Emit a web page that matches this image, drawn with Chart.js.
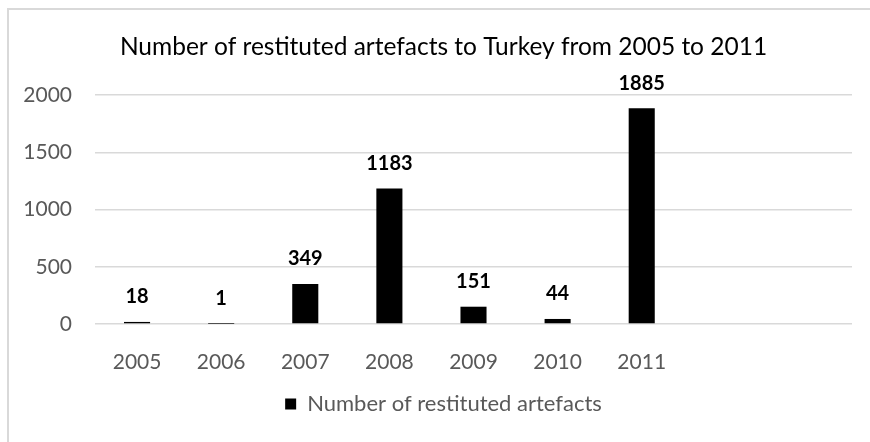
<!DOCTYPE html>
<html>
<head>
<meta charset="utf-8">
<script src="https://cdn.jsdelivr.net/npm/chart.js@4"></script>
<style>
  html, body { margin: 0; padding: 0; background: #fff; overflow: hidden; }
  #wrap { position: relative; width: 878px; height: 442px; }
  #frame { position: absolute; left: 7px; top: 8px; right: -10px; bottom: -10px;
           border-left: 2px solid #d9d9d9; border-top: 2px solid #d9d9d9; }
  canvas { position: absolute; left: 0; top: 0; }
</style>
</head>
<body>
<div id="wrap">
  <div id="frame"></div>
  <canvas id="myChart"></canvas>
</div>
<script>

Chart.defaults.font.family = 'Lato, "Open Sans", sans-serif';
Chart.defaults.color = '#595959';

// data (two empty slots at the end, as in the original)
var years = ['2005', '2006', '2007', '2008', '2009', '2010', '2011', '', ''];
var restituted = [18, 1, 349, 1183, 151, 44, 1885, null, null];
var yTicks = [0, 500, 1000, 1500, 2000];

// value labels above the bars
var barLabels = {
    id: 'barLabels',
    afterDatasetsDraw: function (chart) {
        var ctx = chart.ctx;
        var meta = chart.getDatasetMeta(0);
        ctx.save();
        ctx.font = 'bold 20px Lato, "Open Sans", sans-serif';
        ctx.fillStyle = '#000';
        ctx.textAlign = 'center';
        ctx.textBaseline = 'middle';
        meta.data.forEach(function (bar, i) {
            var v = restituted[i];
            if (v === null) return;
            ctx.fillText(String(v), bar.x, bar.y - 25);
        });
        ctx.restore();
    }
};

var ctx = document.getElementById('myChart');
var myChart = new Chart(ctx, {
    type: 'bar',
    data: {
        labels: years,
        datasets: [{
            label: 'Number of restituted artefacts',
            data: restituted,
            backgroundColor: '#000',
            borderWidth: 0,
            categoryPercentage: 1,
            barPercentage: 0.31
        }]
    },
    plugins: [barLabels],
    options: {
        responsive: true,
        maintainAspectRatio: false,
        animation: false,
        layout: {
            padding: { left: 9, right: 0, top: 8, bottom: 17 }
        },
        plugins: {
            title: {
                display: true,
                text: 'Number of restituted artefacts to Turkey from 2005 to 2011',
                color: '#000',
                font: { size: 24.5, weight: 'normal' },
                padding: { top: 24.3, bottom: 33.3 }
            },
            legend: {
                position: 'bottom',
                labels: {
                    color: '#595959',
                    font: { size: 22 },
                    boxWidth: 11,
                    boxHeight: 11,
                    padding: 10
                }
            },
            tooltip: { enabled: false }
        },
        scales: {
            x: {
                grid: { display: false },
                border: { display: false },
                ticks: { padding: 18, font: { size: 21 }, color: '#595959' },
                afterFit: function (scale) { scale.height = 59; }
            },
            y: {
                min: 0,
                max: 2000,
                afterBuildTicks: function (scale) {
                    scale.ticks = yTicks.map(function (v) { return { value: v }; });
                },
                grid: { color: '#d9d9d9', lineWidth: 1.5, drawTicks: false },
                border: { display: false },
                ticks: {
                    padding: 23,
                    font: { size: 21 },
                    color: '#595959',
                    callback: function (v) { return String(v); }
                },
                afterFit: function (scale) { scale.width = 86; }
            },
            y2: {
                position: 'right',
                display: true,
                grid: { display: false },
                border: { display: false },
                ticks: { display: false },
                afterFit: function (scale) { scale.width = 26; }
            }
        }
    }
});

</script>
</body>
</html>
